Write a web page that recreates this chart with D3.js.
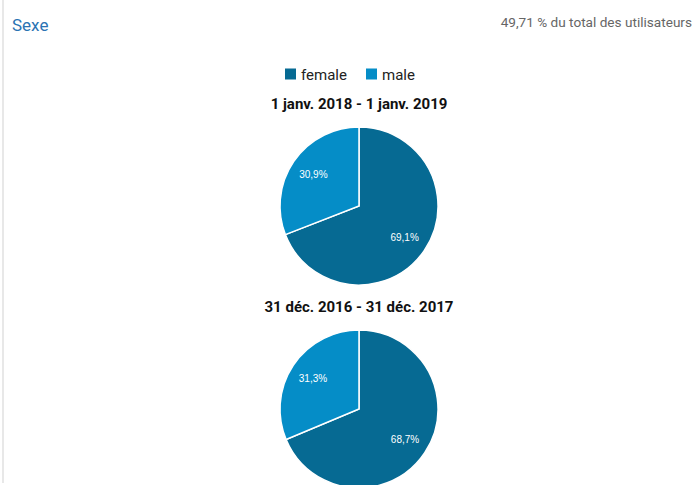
<!DOCTYPE html>
<html>
<head>
<meta charset="utf-8">
<script src="https://cdn.jsdelivr.net/npm/d3@7"></script>
<style>
  body { margin: 0; background: #fff; font-family: Roboto, Arial, sans-serif; }
</style>
</head>
<body>
<div id="chart"></div>
<script>
const width = 696, height = 485;

// données
const categories = ["female", "male"];
const periods = ["1 janv. 2018 - 1 janv. 2019", "31 déc. 2016 - 31 déc. 2017"];
const values2018 = [69.1, 30.9];
const values2017 = [68.7, 31.3];
const seriesValues = [values2018, values2017];

const colors = ["#066a93", "#058dc7"];
const color = d3.scaleOrdinal().domain(categories).range(colors);

const svg = d3.select("#chart").append("svg")
  .attr("width", width).attr("height", height);

// bordure gauche
svg.append("rect")
  .attr("x", 2).attr("y", 0).attr("width", 2).attr("height", 483)
  .attr("fill", "#e8e8e8");

svg.append("text")
  .attr("x", 12).attr("y", 31)
  .attr("fill", "#2a73b3")
  .style("font-size", "17px")
  .text("Sexe");

svg.append("text")
  .attr("x", 692).attr("y", 27)
  .attr("text-anchor", "end")
  .attr("fill", "#666")
  .style("font-size", "13.6px")
  .text("49,71 % du total des utilisateurs");

// légende
const legend = svg.append("g").attr("transform", "translate(285,74)");
const legendX = [0, 81];
const item = legend.selectAll("g").data(categories).join("g")
  .attr("transform", (d, i) => `translate(${legendX[i]},0)`);
item.append("rect")
  .attr("x", 0).attr("y", -5.5).attr("width", 11).attr("height", 11)
  .attr("fill", d => color(d));
item.append("text")
  .attr("x", 16).attr("y", 5.5)
  .attr("fill", "#222")
  .style("font-size", "15px")
  .text(d => d);

const cx = 359, r = 79;
const pieCenters = [206, 409];
const titleY = [109, 312];

const pie = d3.pie().sort(null).value(d => d.v);
const arc = d3.arc().innerRadius(0).outerRadius(r);
const labelArc = d3.arc().innerRadius(r * 0.7).outerRadius(r * 0.7);
const fmt = v => d3.format(".1f")(v).replace(".", ",") + "%";

periods.forEach((p, k) => {
  svg.append("text")
    .attr("x", cx).attr("y", titleY[k])
    .attr("text-anchor", "middle")
    .attr("fill", "#111")
    .style("font-size", "15px")
    .style("font-weight", "bold")
    .text(p);

  const data = categories.map((c, i) => ({ c, v: seriesValues[k][i] }));
  const g = svg.append("g").attr("transform", `translate(${cx},${pieCenters[k]})`);
  const arcs = pie(data);

  g.selectAll("path").data(arcs).join("path")
    .attr("d", arc)
    .attr("fill", d => color(d.data.c))
    .attr("stroke", "#fff")
    .attr("stroke-width", 1.5);

  g.selectAll("text").data(arcs).join("text")
    .attr("transform", d => `translate(${labelArc.centroid(d)})`)
    .attr("text-anchor", "middle")
    .attr("dy", "0.35em")
    .attr("fill", "#fff")
    .style("font-family", "Arial, 'Liberation Sans', sans-serif")
    .style("font-size", "10px")
    .text(d => fmt(d.data.v));
});
</script>
</body>
</html>
